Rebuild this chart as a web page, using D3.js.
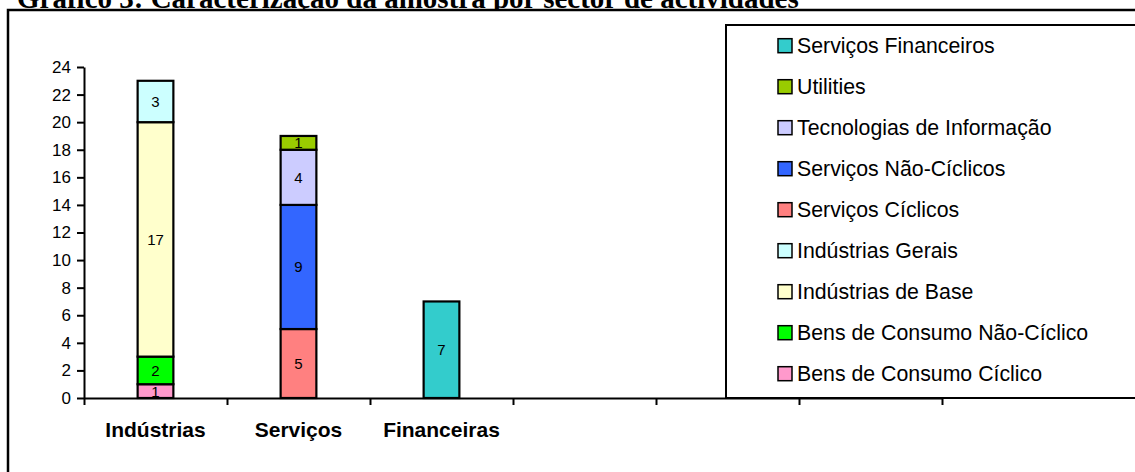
<!DOCTYPE html>
<html>
<head>
<meta charset="utf-8">
<script src="https://cdn.jsdelivr.net/npm/d3@7"></script>
<style>
  html, body { margin: 0; padding: 0; background: #fff; overflow: hidden; }
  svg { display: block; }
</style>
</head>
<body>
<svg id="chart" width="1135" height="472"></svg>
<script>
// Sectores (categorias do eixo X); as restantes posições ficam vazias
const categories = ["Indústrias", "Serviços", "Financeiras", "", "", ""];

// Número de empresas por sector de actividade, em cada categoria
const bensConsumoCiclico    = [1, 0, 0, 0, 0, 0];
const bensConsumoNaoCiclico = [2, 0, 0, 0, 0, 0];
const industriasBase        = [17, 0, 0, 0, 0, 0];
const industriasGerais      = [3, 0, 0, 0, 0, 0];
const servicosCiclicos      = [0, 5, 0, 0, 0, 0];
const servicosNaoCiclicos   = [0, 9, 0, 0, 0, 0];
const tecnologiasInformacao = [0, 4, 0, 0, 0, 0];
const utilities             = [0, 1, 0, 0, 0, 0];
const servicosFinanceiros   = [0, 0, 7, 0, 0, 0];

const seriesNames = [
  "Bens de Consumo Cíclico",
  "Bens de Consumo Não-Cíclico",
  "Indústrias de Base",
  "Indústrias Gerais",
  "Serviços Cíclicos",
  "Serviços Não-Cíclicos",
  "Tecnologias de Informação",
  "Utilities",
  "Serviços Financeiros"
];
const seriesValues = [
  bensConsumoCiclico, bensConsumoNaoCiclico, industriasBase, industriasGerais,
  servicosCiclicos, servicosNaoCiclicos, tecnologiasInformacao, utilities, servicosFinanceiros
];

const yTicks = [0, 2, 4, 6, 8, 10, 12, 14, 16, 18, 20, 22, 24];

// Cores de preenchimento de cada série
const seriesColors = [
  "#FF99CC", "#00FF00", "#FFFFCC", "#CCFFFF",
  "#FF8080", "#3366FF", "#CCCCFF", "#99CC00", "#33CCCC"
];

(function draw() {
  const svg = d3.select("#chart");
  const sans = "'Liberation Sans', Arial, sans-serif";

  // Título (parcialmente cortado no topo)
  svg.append("text")
    .attr("x", 17).attr("y", 8)
    .attr("font-family", "'Liberation Serif', 'Times New Roman', serif")
    .attr("font-weight", "bold")
    .attr("font-size", 29)
    .text("Gráfico 3: Caracterização da amostra por sector de actividades");

  // Moldura da área do gráfico
  svg.append("rect")
    .attr("x", 8).attr("y", 10)
    .attr("width", 1300).attr("height", 600)
    .attr("fill", "#fff").attr("stroke", "#000").attr("stroke-width", 2.5);

  // Escalas
  const plotLeft = 84, plotRight = 942, plotBottom = 398, plotTop = 67;
  const x = d3.scaleBand().domain(d3.range(categories.length)).range([plotLeft, plotRight]).padding(0);
  const xb = d3.scaleLinear().domain([0, categories.length]).range([plotLeft, plotRight]);
  const y = d3.scaleLinear().domain([0, 24]).range([plotBottom, plotTop]);

  // Empilhamento
  const table = categories.map((c, i) => {
    const row = { i };
    seriesNames.forEach((n, k) => { row[n] = seriesValues[k][i]; });
    return row;
  });
  const stacked = d3.stack().keys(seriesNames)(table);

  const barW = x.step() / 4;
  const g = svg.append("g");
  stacked.forEach((layer, k) => {
    const segs = layer.filter(d => d[1] - d[0] > 0);
    g.selectAll(null).data(segs).enter().append("rect")
      .attr("x", d => x(d.data.i) + x.step() / 2 - barW / 2)
      .attr("y", d => y(d[1]))
      .attr("width", barW)
      .attr("height", d => y(d[0]) - y(d[1]))
      .attr("fill", seriesColors[k])
      .attr("stroke", "#000").attr("stroke-width", 2.2);
    g.selectAll(null).data(segs).enter().append("text")
      .attr("x", d => x(d.data.i) + x.step() / 2)
      .attr("y", d => (y(d[0]) + y(d[1])) / 2)
      .attr("text-anchor", "middle")
      .attr("dominant-baseline", "central")
      .attr("font-family", sans).attr("font-size", 15)
      .text(d => d[1] - d[0]);
  });

  // Eixo Y
  const yAxis = svg.append("g")
    .attr("transform", `translate(${plotLeft},0)`)
    .call(d3.axisLeft(y).tickValues(yTicks).tickSize(7).tickSizeOuter(0).tickPadding(6));
  yAxis.select(".domain").attr("stroke", "#000").attr("stroke-width", 2);
  yAxis.selectAll(".tick line").attr("stroke", "#000").attr("stroke-width", 2);
  yAxis.selectAll(".tick text").attr("font-family", sans).attr("font-size", 17).attr("fill", "#000");

  // Legenda
  const legX = 726, legY = 25, legH = plotBottom - legY;
  svg.append("rect")
    .attr("x", legX).attr("y", legY)
    .attr("width", 600).attr("height", legH)
    .attr("fill", "#fff").attr("stroke", "#000").attr("stroke-width", 2);

  const legendOrder = d3.range(seriesNames.length).reverse();
  const leg = svg.append("g");
  legendOrder.forEach((k, j) => {
    const cy = 45.7 + j * 41;
    leg.append("rect")
      .attr("x", 778).attr("y", cy - 7)
      .attr("width", 14).attr("height", 14)
      .attr("fill", seriesColors[k]).attr("stroke", "#000").attr("stroke-width", 1.5);
    leg.append("text")
      .attr("x", 797).attr("y", cy)
      .attr("dominant-baseline", "central")
      .attr("font-family", sans).attr("font-size", 21.3)
      .text(seriesNames[k]);
  });

  // Eixo X
  const xAxis = svg.append("g")
    .attr("transform", `translate(0,${plotBottom})`)
    .call(d3.axisBottom(xb).ticks(categories.length).tickFormat("").tickSize(7).tickSizeOuter(0));
  xAxis.select(".domain").attr("stroke", "#000").attr("stroke-width", 2);
  xAxis.selectAll(".tick line").attr("stroke", "#000").attr("stroke-width", 2);

  svg.append("g").selectAll("text")
    .data(categories.map((c, i) => ({ c, i })).filter(d => d.c))
    .enter().append("text")
    .attr("x", d => x(d.i) + x.step() / 2)
    .attr("y", 437)
    .attr("text-anchor", "middle")
    .attr("font-family", sans).attr("font-weight", "bold").attr("font-size", 21)
    .text(d => d.c);
})();
</script>
</body>
</html>
